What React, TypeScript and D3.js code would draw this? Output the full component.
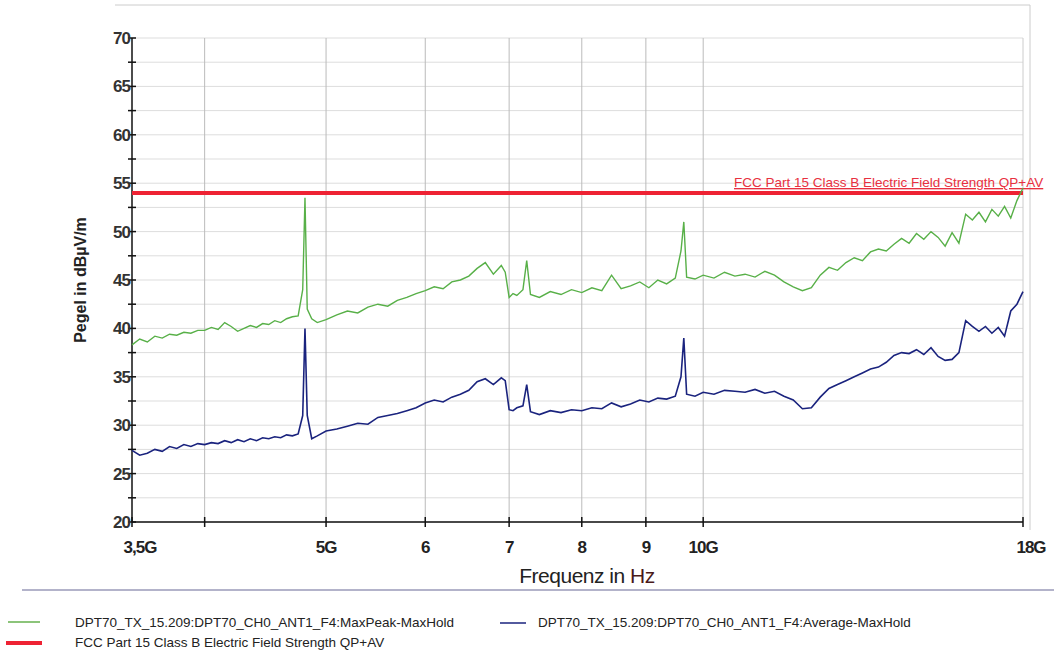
import * as d3 from "d3";

// frequency grid in GHz, shared by both traces
const freqGHz = [
  3.50, 3.55, 3.60, 3.65, 3.70, 3.75, 3.80, 3.85, 3.90, 3.95,
  4.00, 4.05, 4.10, 4.15, 4.20, 4.25, 4.30, 4.35, 4.40, 4.45,
  4.50, 4.55, 4.60, 4.65, 4.70, 4.75, 4.79, 4.81, 4.83, 4.87,
  4.92, 5.00, 5.10, 5.20, 5.30, 5.40, 5.50, 5.60, 5.70, 5.80,
  5.90, 6.00, 6.10, 6.20, 6.30, 6.40, 6.50, 6.60, 6.70, 6.80,
  6.90, 6.95, 7.00, 7.05, 7.10, 7.18, 7.23, 7.28, 7.40, 7.55,
  7.70, 7.85, 8.00, 8.15, 8.30, 8.45, 8.60, 8.75, 8.90, 9.05,
  9.20, 9.35, 9.50, 9.60, 9.65, 9.70, 9.85, 10.0, 10.2, 10.4,
  10.6, 10.8, 11.0, 11.2, 11.4, 11.6, 11.8, 12.0, 12.2, 12.4,
  12.6, 12.8, 13.0, 13.2, 13.4, 13.6, 13.8, 14.0, 14.2, 14.4,
  14.6, 14.8, 15.0, 15.2, 15.4, 15.6, 15.8, 16.0, 16.2, 16.4,
  16.6, 16.8, 17.0, 17.2, 17.4, 17.6, 17.8, 18.0,
];

const maxPeak = [
  38.3, 38.9, 38.6, 39.2, 39.0, 39.4, 39.3, 39.6, 39.5, 39.8,
  39.8, 40.1, 39.9, 40.6, 40.2, 39.7, 40.0, 40.3, 40.1, 40.5,
  40.4, 40.8, 40.6, 41.0, 41.2, 41.3, 44.0, 53.5, 42.0, 41.0,
  40.6, 40.9, 41.4, 41.8, 41.6, 42.2, 42.5, 42.3, 42.9, 43.2,
  43.6, 43.9, 44.3, 44.1, 44.8, 45.0, 45.4, 46.2, 46.8, 45.6,
  46.5, 45.8, 43.2, 43.6, 43.4, 44.0, 47.0, 43.5, 43.2, 43.8,
  43.5, 44.0, 43.7, 44.2, 43.9, 45.5, 44.1, 44.4, 44.8, 44.2,
  45.0, 44.6, 45.2, 48.0, 51.0, 45.3, 45.1, 45.5, 45.2, 45.8,
  45.4, 45.6, 45.3, 45.9, 45.5, 44.8, 44.3, 43.9, 44.2, 45.5,
  46.3, 46.0, 46.8, 47.3, 47.0, 47.9, 48.2, 48.0, 48.7, 49.3,
  48.8, 49.8, 49.2, 50.0, 49.4, 48.5, 49.9, 48.8, 51.8, 51.2,
  52.0, 51.0, 52.3, 51.6, 52.6, 51.4, 53.2, 54.5,
];

const average = [
  27.4, 26.9, 27.1, 27.5, 27.3, 27.8, 27.6, 28.0, 27.8, 28.1,
  28.0, 28.2, 28.1, 28.4, 28.2, 28.5, 28.3, 28.6, 28.4, 28.7,
  28.6, 28.8, 28.7, 29.0, 28.9, 29.1, 31.0, 40.0, 31.0, 28.6,
  28.9, 29.4, 29.6, 29.9, 30.2, 30.1, 30.8, 31.0, 31.2, 31.5,
  31.8, 32.3, 32.6, 32.4, 32.9, 33.2, 33.6, 34.5, 34.8, 34.2,
  34.9, 34.6, 31.6, 31.5, 31.8, 32.0, 34.2, 31.4, 31.1, 31.5,
  31.3, 31.6, 31.5, 31.8, 31.7, 32.3, 31.9, 32.2, 32.6, 32.4,
  32.8, 32.7, 33.0, 35.0, 39.0, 33.2, 33.0, 33.4, 33.2, 33.6,
  33.5, 33.4, 33.7, 33.3, 33.5, 33.0, 32.6, 31.7, 31.8, 32.9,
  33.8, 34.2, 34.6, 35.0, 35.4, 35.8, 36.0, 36.5, 37.2, 37.5,
  37.4, 37.8, 37.3, 38.0, 37.1, 36.7, 36.8, 37.5, 40.8, 40.2,
  39.7, 40.2, 39.5, 40.1, 39.2, 41.8, 42.5, 43.8,
];

const limitLevel = 54;
const xTicks = [3.5, 4, 5, 6, 7, 8, 9, 10, 18];
const xTickLabels = ["3,5G", "", "5G", "6", "7", "8", "9", "10G", "18G"];
const yTicks = [20, 25, 30, 35, 40, 45, 50, 55, 60, 65, 70];

const W = 1054, H = 650;
const left = 132, right = 1023, top = 38, bottom = 522;
const font = "'Liberation Sans', Arial, sans-serif";

export default function App() {
  const x = d3.scaleLog().domain([3.5, 18]).range([left, right]);
  const y = d3.scaleLinear().domain([20, 70]).range([bottom, top]);
  const minor = d3.range(20, 70.01, 2.5);

  const line = (vals: number[]) =>
    d3.line<number>().x((_, i) => x(freqGHz[i])).y(d => y(d))(vals) || "";

  return (
    <svg width={W} height={H} style={{ position: "absolute", left: 0, top: 0, background: "#fff" }}>
      <line x1={115} x2={1030} y1={5} y2={5} stroke="#ccc" />
      <line x1={1030} x2={1030} y1={5} y2={530} stroke="#ccc" />
      {minor.map(v => (
        <line key={"h" + v} x1={left} x2={right} y1={y(v)} y2={y(v)} stroke="#ddd" />
      ))}
      {xTicks.slice(1, -1).map(f => (
        <line key={"v" + f} x1={x(f)} x2={x(f)} y1={top} y2={bottom} stroke="#bbb" />
      ))}
      <line x1={right} x2={right} y1={top} y2={bottom} stroke="#ccc" />
      {/* axes */}
      <line x1={left} x2={left} y1={top} y2={bottom} stroke="#111" strokeWidth={1.5} />
      <line x1={left} x2={right} y1={bottom} y2={bottom} stroke="#111" strokeWidth={1.5} />
      {minor.map(v => (
        <line key={"t" + v} x1={left - 4} x2={left + 4} y1={y(v)} y2={y(v)} stroke="#111" strokeWidth={1.5} />
      ))}
      {yTicks.map(v => (
        <text key={"yl" + v} x={left - 2} y={y(v) + 6} textAnchor="end" fontFamily={font}
          fontSize={17} fontWeight="bold" fill="#333" letterSpacing={-1}>{v}</text>
      ))}
      {xTicks.map(f => (
        <line key={"xt" + f} x1={x(f)} x2={x(f)} y1={bottom - 5} y2={bottom + 5} stroke="#111" strokeWidth={1.5} />
      ))}
      {xTicks.map((f, i) => (
        <text key={"xl" + f} x={x(f) + (i === 0 ? 8 : i === xTicks.length - 1 ? 8 : 0)} y={553}
          textAnchor="middle" fontFamily={font} fontSize={17} fontWeight="bold" fill="#222"
          letterSpacing={-1}>{xTickLabels[i]}</text>
      ))}
      <text transform="translate(86,280) rotate(-90)" textAnchor="middle" fontFamily={font}
        fontSize={16} fontWeight="bold" fill="#222">Pegel in dBµV/m</text>
      <text x={587} y={583} textAnchor="middle" fontFamily={font} fontSize={21} fill="#222" letterSpacing={-0.5}>
        Frequenz in <tspan fill="#4a1a1a">Hz</tspan>
      </text>
      <line x1={22} x2={1054} y1={590} y2={590} stroke="#9a9ab8" strokeWidth={1.5} />

      {/* limit */}
      <line x1={left} x2={right} y1={y(limitLevel)} y2={y(limitLevel)} stroke="#ee2233" strokeWidth={4} />
      <text x={734} y={187} fontFamily={font} fontSize={13.5} fill="#e83040"
        textDecoration="underline">FCC Part 15 Class B Electric Field Strength QP+AV</text>

      <path d={line(maxPeak)} fill="none" stroke="#58b048" strokeWidth={1.4} />
      <path d={line(average)} fill="none" stroke="#1a237e" strokeWidth={1.6} />

      {/* legend */}
      <line x1={8} x2={40} y1={622} y2={622} stroke="#8cc47a" strokeWidth={2} />
      <text x={75} y={627} fontFamily={font} fontSize={13.5} fill="#222">DPT70_TX_15.209:DPT70_CH0_ANT1_F4:MaxPeak-MaxHold</text>
      <line x1={500} x2={526} y1={623} y2={623} stroke="#1a237e" strokeWidth={1.5} />
      <text x={538} y={627} fontFamily={font} fontSize={13.5} fill="#222">DPT70_TX_15.209:DPT70_CH0_ANT1_F4:Average-MaxHold</text>
      <line x1={6} x2={42} y1={643} y2={643} stroke="#ee2233" strokeWidth={4} />
      <text x={75} y={647} fontFamily={font} fontSize={13.5} fill="#222">FCC Part 15 Class B Electric Field Strength QP+AV</text>
    </svg>
  );
}
